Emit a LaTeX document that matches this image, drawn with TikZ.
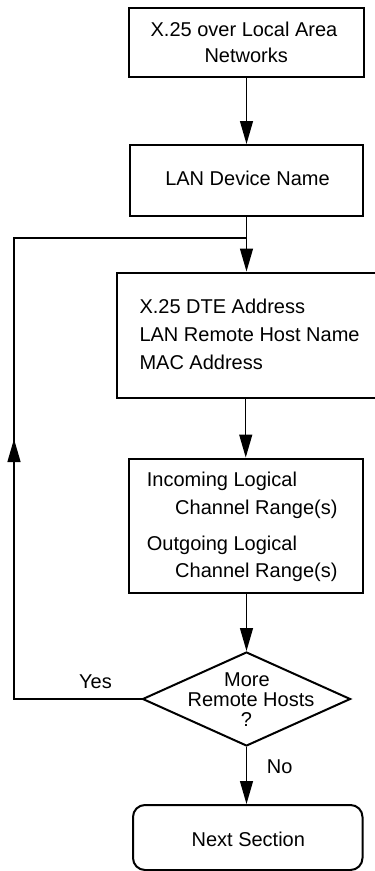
\documentclass[tikz,border=0pt]{standalone}
\usepackage{fontspec}
\setmainfont{Liberation Sans}
\usetikzlibrary{arrows.meta,shapes.geometric}
\begin{document}
\begin{tikzpicture}[x=1pt,y=-1pt,
  box/.style={draw,line width=2pt,inner sep=0pt},
  txt/.style={anchor=base,inner sep=0pt,font=\fontsize{20}{24}\selectfont},
  ltxt/.style={txt,anchor=base west},
  conn/.style={line width=1.3pt},
  arr/.style={conn,-{Triangle[length=23pt,width=13pt]}}]
\clip (0,0) rectangle (375,871);
% boxes
\node[box,minimum width=235pt,minimum height=69pt] (b1) at (246.5,42.5) {};
\node[box,minimum width=233pt,minimum height=70.5pt] (b2) at (246.5,180.25) {};
\node[box,minimum width=268pt,minimum height=125pt] (b3) at (251,335) {};
\node[box,minimum width=233.5pt,minimum height=134.5pt] (b4) at (245.75,525.75) {};
\node[box,diamond,minimum width=208pt,minimum height=94pt,aspect=2.2128] (dia) at (246.5,699) {};
\node[box,rounded corners=12pt,minimum width=229.5pt,minimum height=65pt] (b5) at (247.75,837.5) {};
% texts
\node[txt] (t1a) at (244,36.7) {X.25 over Local Area};
\node[txt] (t1b) at (246.2,62.7) {Networks};
\node[txt] (t2) at (247.5,185) {LAN Device Name};
\node[ltxt] (t3a) at (139.3,313.3) {X.25 DTE Address};
\node[ltxt] (t3b) at (139.3,341.7) {LAN Remote Host Name};
\node[ltxt] (t3c) at (139.3,369.3) {MAC Address};
\node[ltxt] (t4a) at (146.7,486.7) {Incoming Logical};
\node[ltxt] (t4b) at (175,514) {Channel Range(s)};
\node[ltxt] (t4c) at (146.7,550) {Outgoing Logical};
\node[ltxt] (t4d) at (175,577.3) {Channel Range(s)};
\node[txt] (td1) at (247,686.7) {More};
\node[txt] (td2) at (251,706.7) {Remote Hosts};
\node[txt] (td3) at (246.5,726) {?};
\node[txt] (yes) at (95.5,688) {Yes};
\node[txt] (no) at (279.6,773.3) {No};
\node[txt] (t5) at (248.3,846) {Next Section};
% connectors
\draw[arr] (b1.south) -- (b2.north);
\draw[arr] (b2.south) -- (b2.south |- b3.north);
\draw[arr] (b4.north |- b3.south) -- (b4.north);
\draw[arr] (dia.north |- b4.south) -- (dia.north);
\draw[arr] (dia.south) -- (dia.south |- b5.north);
% loop back
\coordinate (cBL) at (14,699);
\coordinate (tipL) at (14,439);
\coordinate (cTL) at (14,238);
\coordinate (join) at (246.5,238);
\draw[conn] (dia.west) -- (cBL) -- (cTL) -- (join);
\draw[arr] (cBL) -- (tipL);
\end{tikzpicture}
\end{document}
